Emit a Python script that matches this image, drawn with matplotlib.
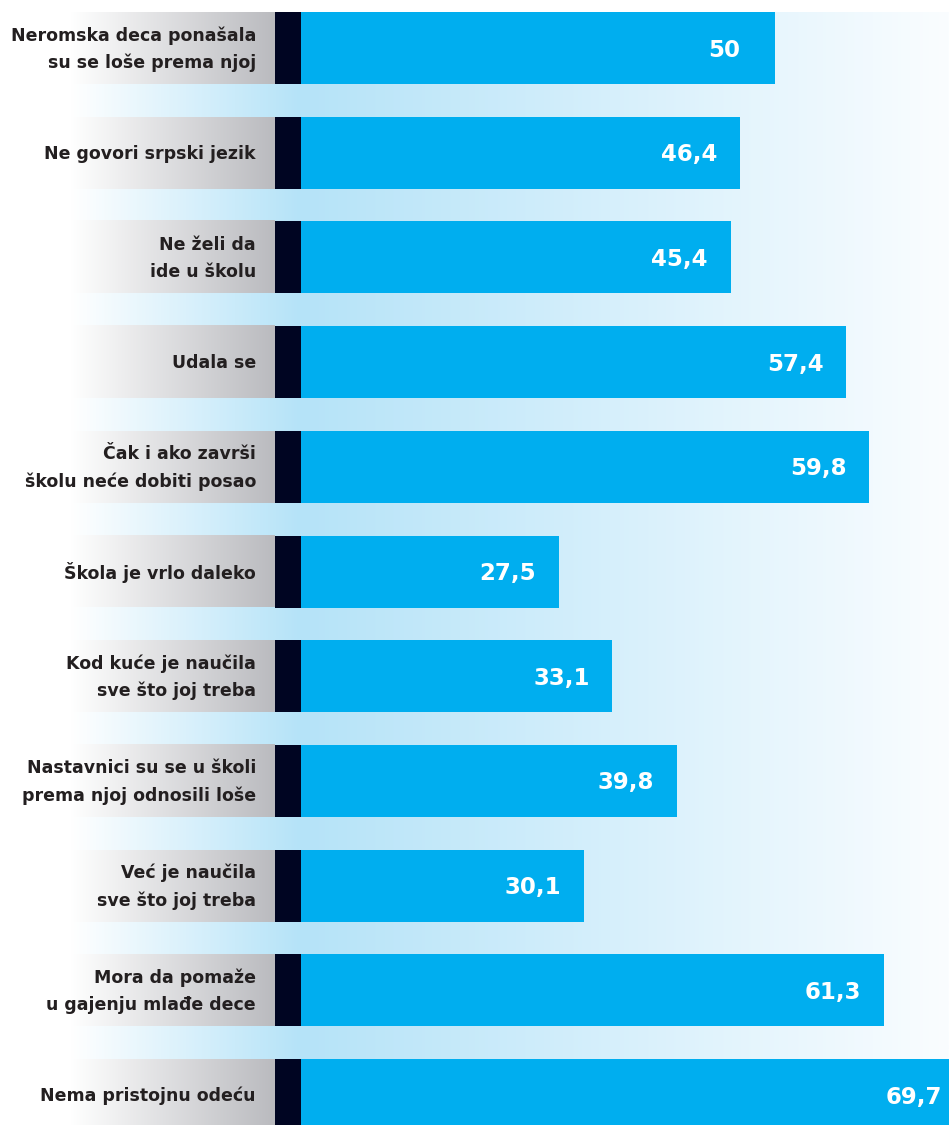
import numpy as np
import matplotlib
matplotlib.use("Agg")
import matplotlib.pyplot as plt

labels = [
    "Neromska deca ponašala\nsu se loše prema njoj",
    "Ne govori srpski jezik",
    "Ne želi da\nide u školu",
    "Udala se",
    "Čak i ako završi\nškolu neće dobiti posao",
    "Škola je vrlo daleko",
    "Kod kuće je naučila\nsve što joj treba",
    "Nastavnici su se u školi\nprema njoj odnosili loše",
    "Već je naučila\nsve što joj treba",
    "Mora da pomaže\nu gajenju mlađe dece",
    "Nema pristojnu odeću",
]
values = [50, 46.4, 45.4, 57.4, 59.8, 27.5, 33.1, 39.8, 30.1, 61.3, 69.7]

W, H = 949, 1125
PX = 9.62         # pixels per unit
X0 = 294          # pixel of zero
PITCH = 104.7     # row pitch in px
ROW_TOP = 12
ROW_H = 72

def px2x(p):
    return (p - X0) / PX

def px2y(p):
    return (p - ROW_TOP - ROW_H / 2) / PITCH

BLUE = "#00aeef"
NAVY = "#000522"

fig = plt.figure(figsize=(W / 100, H / 100), dpi=100)
ax = fig.add_axes([0, 0, 1, 1])
ax.axis("off")

# background gradient band
xs = np.linspace(70, W, 400)
white = np.array([1.0, 1.0, 1.0])
light = np.array([181, 227, 248]) / 255
far = np.array([250, 253, 255]) / 255
bg = np.zeros((1, len(xs), 3))
for i, x in enumerate(xs):
    if x < 300:
        t = (x - 70) / 230
        bg[0, i] = white * (1 - t) + light * t
    else:
        t = (x - 300) / (W - 300)
        bg[0, i] = light * (1 - t) + far * t
ax.imshow(bg, extent=[px2x(70), px2x(W), px2y(H), px2y(ROW_TOP)],
          aspect="auto", interpolation="bilinear", zorder=0)

# label box gradient
gray = np.array([186, 187, 191]) / 255
gx = np.linspace(0, 1, 200)
grad = (white[None, :] * (1 - gx[:, None]) + gray[None, :] * gx[:, None])[None, :, :]

hh = ROW_H / PITCH
for i, (lab, v) in enumerate(zip(labels, values)):
    top, bot = i - hh / 2, i + hh / 2
    ax.imshow(grad, extent=[px2x(70), px2x(275), bot, top],
              aspect="auto", interpolation="bilinear", zorder=1)
    ax.barh(i, v, height=hh, color=BLUE, zorder=2)
    ax.fill_between([px2x(275), px2x(301)], top, bot, color=NAVY, lw=0, zorder=3)
    ax.text(px2x(256), i + 0.01, lab, ha="right", va="center", fontsize=12.5,
            fontweight="bold", color="#231f20", linespacing=1.62, zorder=4)
    ax.text(v - 51 / PX, i + 0.02, f"{v:g}".replace(".", ","), ha="center",
            va="center", fontsize=16.5, fontweight="bold", color="white", zorder=4)

ax.set_ylim(px2y(H), px2y(0))
ax.set_xlim(px2x(0), px2x(W))
fig.savefig("out.png", dpi=100)
